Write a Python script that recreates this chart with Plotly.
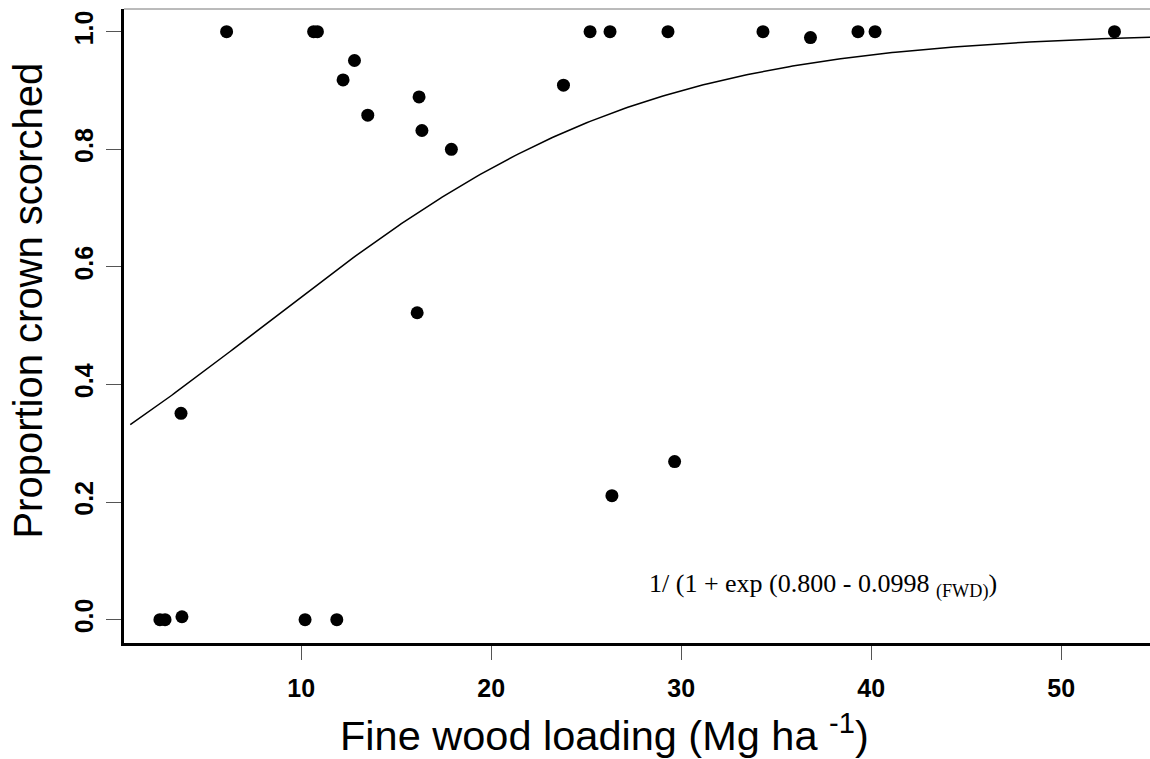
import numpy as np
import plotly.graph_objects as go

# Observed data (fine wood loading, proportion crown scorched)
fwd = [6.07, 10.65, 10.85, 25.2, 26.25, 29.3, 34.3, 39.3, 40.2, 52.8,
       36.8, 12.8, 12.2, 16.2, 13.5, 16.35, 17.9, 23.8, 16.1,
       3.67, 26.35, 29.65, 2.56, 2.83, 10.2, 11.87, 3.72]
scorch = [1.0, 1.0, 1.0, 1.0, 1.0, 1.0, 1.0, 1.0, 1.0, 1.0,
          0.99, 0.951, 0.918, 0.889, 0.858, 0.832, 0.80, 0.909, 0.522,
          0.351, 0.211, 0.269, 0.0, 0.0, 0.0, 0.0, 0.005]

# Fitted logistic model stated on the chart
b0 = 0.800
b1 = 0.0998
fit_x = np.linspace(1.0, 55.0, 300)
fit_y = 1.0 / (1.0 + np.exp(b0 - b1 * fit_x))

x_ticks = [10, 20, 30, 40, 50]
y_ticks = [0.0, 0.2, 0.4, 0.6, 0.8, 1.0]
y_ticklabels = ["0.0", "0.2", "0.4", "0.6", "0.8", "1.0"]

fig = go.Figure()
fig.add_trace(go.Scatter(x=fit_x, y=fit_y, mode="lines",
                         line=dict(color="black", width=1.5),
                         hoverinfo="skip", showlegend=False))
fig.add_trace(go.Scatter(x=fwd, y=scorch, mode="markers",
                         marker=dict(color="black", size=13, line=dict(width=0)),
                         showlegend=False))

tickfont = dict(family="Liberation Sans, Arial", size=25, color="black", weight="bold")

fig.update_layout(
    width=1150, height=759,
    margin=dict(l=124, r=0, t=9, b=116),
    paper_bgcolor="white", plot_bgcolor="white",
    xaxis=dict(range=[0.67, 54.67], tickvals=x_ticks, ticktext=[str(v) for v in x_ticks],
               showgrid=False, zeroline=False, showline=True, linecolor="black", linewidth=2.5,
               ticks="outside", ticklen=14, tickwidth=1, tickcolor="#555555",
               tickfont=tickfont, ticklabelstandoff=7),
    yaxis=dict(range=[-0.0396, 1.0386], tickvals=y_ticks, ticktext=y_ticklabels,
               showgrid=False, zeroline=False, showline=True, linecolor="black", linewidth=2.5,
               ticks="outside", ticklen=15, tickwidth=1, tickcolor="#555555",
               tickfont=tickfont, tickangle=-90, ticklabelstandoff=3),
    shapes=[dict(type="line", xref="paper", yref="paper", x0=0, x1=1, y0=1, y1=1,
                 line=dict(color="#777777", width=1))],
    annotations=[
        dict(text="Fine wood loading (Mg ha <sup>-1</sup>)", xref="paper", yref="paper",
             x=0.4683, y=-0.142, xanchor="center", yanchor="middle", showarrow=False,
             font=dict(family="Liberation Sans, Arial", size=41.5, color="black")),
        dict(text="Proportion crown scorched", xref="paper", yref="paper",
             x=-0.0936, y=0.54, xanchor="center", yanchor="middle", textangle=-90,
             showarrow=False,
             font=dict(family="Liberation Sans, Arial", size=40, color="black")),
        dict(text="1/ (1 + exp (0.800 - 0.0998 <sub>(FWD)</sub>)", xref="x", yref="y",
             x=28.22, y=0.058, xanchor="left", yanchor="middle", showarrow=False,
             font=dict(family="Liberation Serif, Times New Roman", size=26, color="black")),
    ],
)

fig.write_html("out.html")
